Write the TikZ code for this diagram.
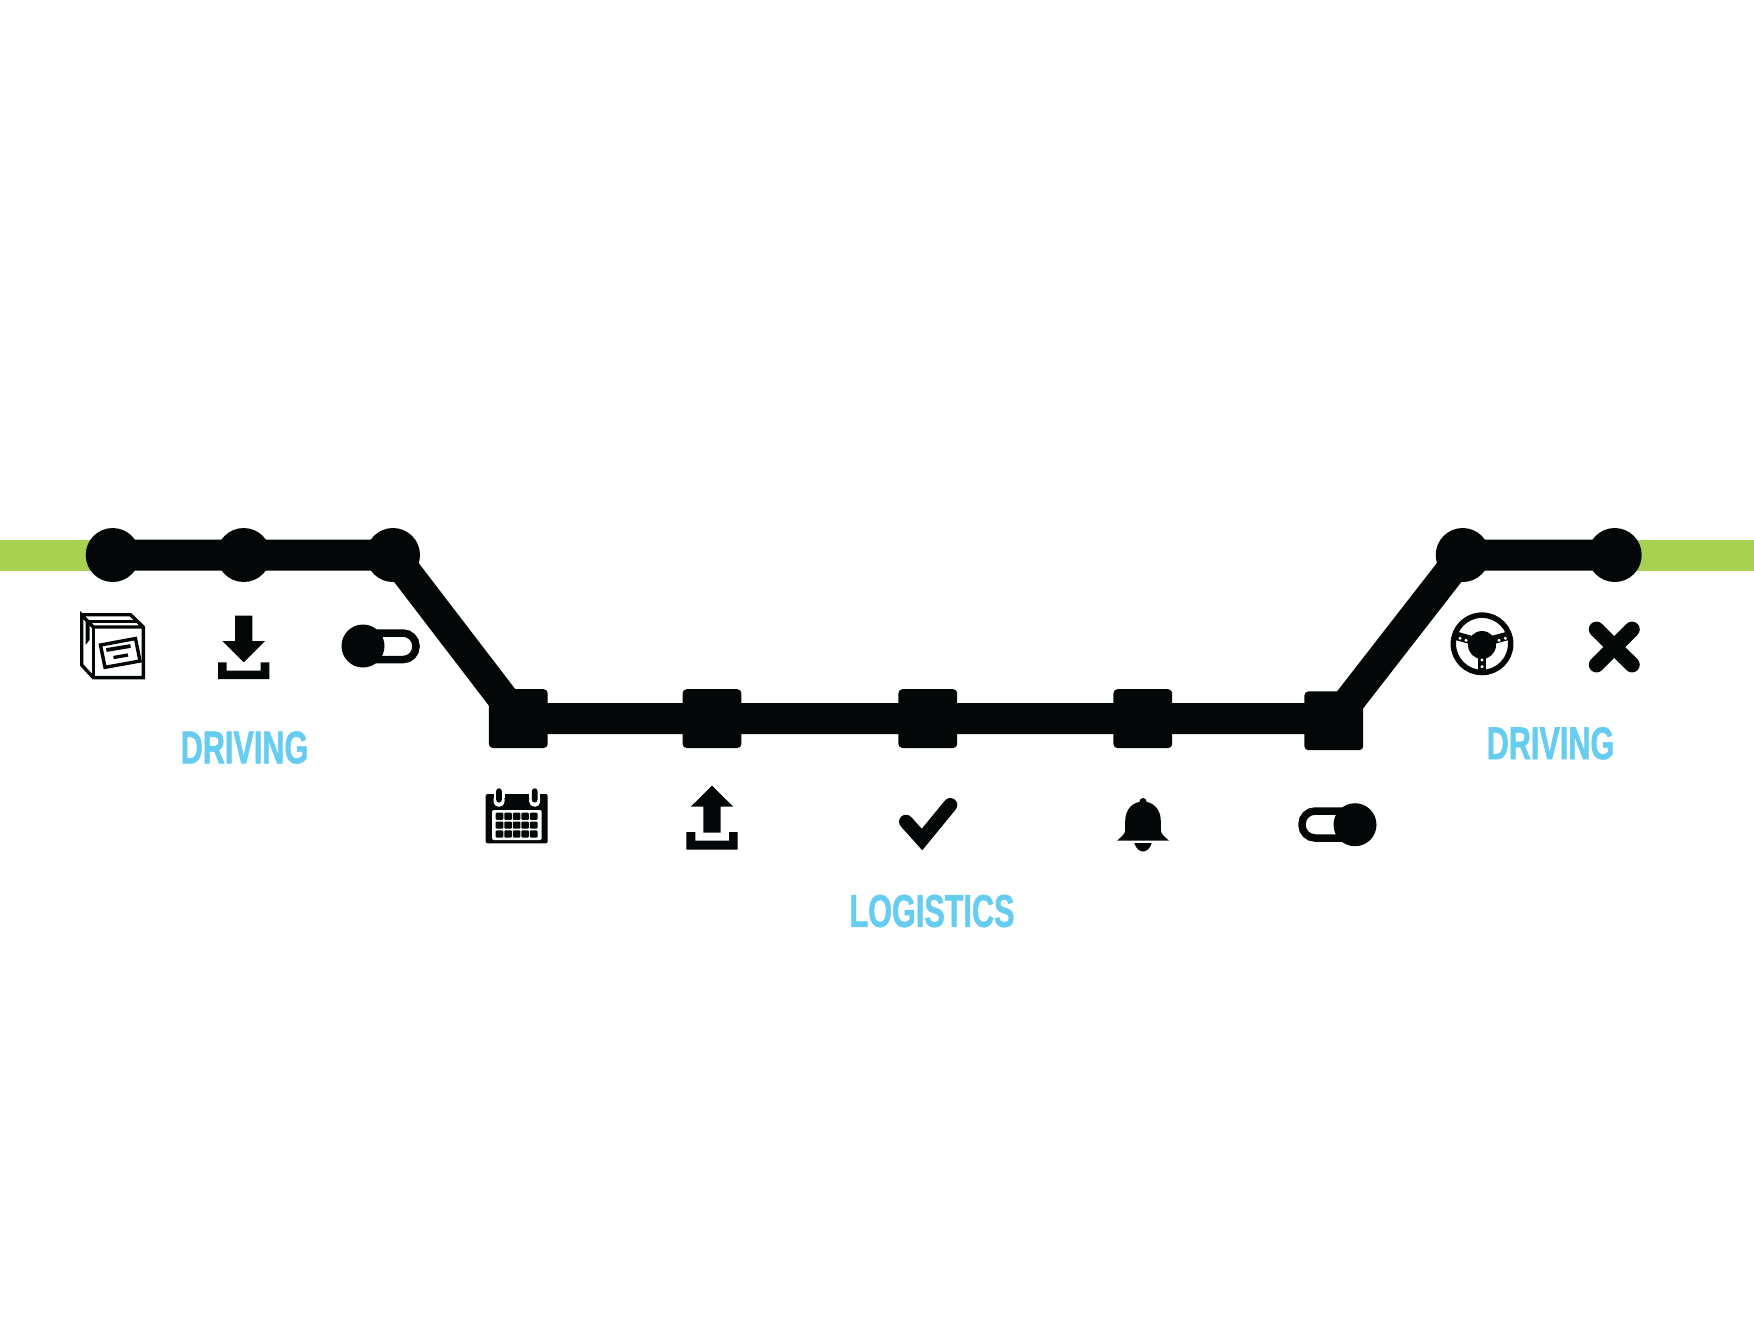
\documentclass[tikz,border=0pt]{standalone}
\usepackage{fontspec}
\newfontfamily\signfont[FakeStretch=0.665,FakeBold=1.1]{Liberation Sans}
\usetikzlibrary{backgrounds,calc}
\definecolor{ink}{HTML}{040708}
\definecolor{leaf}{HTML}{A8D152}
\definecolor{sky}{HTML}{66CCF0}
\tikzset{
  trackline/.style={draw=ink,line width=3.1mm},
  endline/.style={draw=leaf,line width=3.1mm},
  roundstop/.style={circle,fill=ink,inner sep=0pt,minimum size=5.4mm},
  squarestop/.style={rectangle,rounded corners=0.4mm,fill=ink,inner sep=0pt,minimum size=5.88mm},
  signlabel/.style={text=sky,inner sep=0pt,font=\signfont\bfseries\fontsize{13.1}{13.1}\selectfont},
  thinicon/.style={draw=ink,line width=0.34mm,line join=miter},
  pill/.style={draw=ink,line width=0.75mm,rounded corners=1.3mm}
}
\begin{document}
\begin{tikzpicture}[x=0.1mm,y=-0.1mm]
  \useasboundingbox (0,0) rectangle (1754,1317);
  % stops
  \node[roundstop] (driveA) at (112.7,555) {};
  \node[roundstop] (driveB) at (243.7,555) {};
  \node[roundstop] (driveC) at (393,555) {};
  \node[squarestop] (logA) at (518.3,718.6) {};
  \node[squarestop] (logB) at (712,718.6) {};
  \node[squarestop] (logC) at (927.8,718.6) {};
  \node[squarestop] (logD) at (1142.8,718.6) {};
  \node[squarestop] (logE) at (1333.8,720.8) {};
  \node[roundstop] (driveD) at (1462.7,555) {};
  \node[roundstop] (driveE) at (1614.7,555) {};
  \coordinate (leftend) at (0,555.3);
  \coordinate (rightend) at (1754,555.3);
  % route
  \begin{scope}[on background layer]
    \draw[endline] (leftend) -- (driveA.center |- leftend);
    \draw[endline] (driveE.center |- rightend) -- (rightend);
  \end{scope}
  \draw[trackline] (driveA.center) -- (driveB.center) -- (driveC.center) -- (logA.center) -- (logB.center) -- (logC.center) -- (logD.center) -- (logD.center -| logE.center);
  \draw[trackline] (logE.center) -- (driveD.center) -- (driveE.center);
  % box
  \draw[thinicon] (80,614.7) -- (130.5,614.7) -- (143.3,627) -- (143.3,677.6) -- (93.3,677.6) -- (81.7,665) -- (81.7,615) -- (93.3,627) -- (143.3,627);
  \draw[thinicon] (93.3,627) -- (93.3,677.6);
  \draw[thinicon] (86,621.5) -- (137,621.5);
  \fill[ink] (85.5,619) -- (89.5,623) -- (89.5,640) -- (85.5,645) -- cycle;
  \draw[thinicon] (100.5,645) -- (135.5,638.5) -- (140,661) -- (105,667.3) -- cycle;
  \draw[ink,line width=0.38mm] (106.3,650) -- (130.5,646);
  \draw[ink,line width=0.33mm] (113.5,657.5) -- (128,655);
  % download
  \fill[ink] (235,615.7) -- (252.3,615.7) -- (252.3,641) -- (265,641) -- (243.7,662.3) -- (222.3,641) -- (235,641) -- cycle;
  \fill[ink] (218,662.3) -- (226.7,662.3) -- (226.7,670.7) -- (260.7,670.7) -- (260.7,662.3) -- (269.3,662.3) -- (269.3,679) -- (218,679) -- cycle;
  % left switch
  \draw[pill] (363,633) rectangle (416,659.6);
  \fill[ink] (363,646) circle (2.15mm);
  % calendar
  \fill[ink,rounded corners=0.2mm] (485.7,794) rectangle (547.7,843.3);
  \fill[white,rounded corners=0.2mm] (492,810) rectangle (541.7,840);
  \foreach \col in {0,...,4}
    \foreach \row in {0,1,2}
      \fill[ink,rounded corners=0.1mm] ({495.7+8.55*\col},{812.7+8.8*\row}) rectangle +(7.6,7.2);
  \foreach \ringx in {499,534.7} {
    \fill[white,rounded corners=0.5mm] (\ringx-5.5,794) rectangle (\ringx+5.5,806.7);
    \fill[white] (\ringx-5.5,790) rectangle (\ringx+5.5,798);
    \fill[ink,rounded corners=0.27mm] (\ringx-2.8,788.3) rectangle (\ringx+2.8,802.5);
  }
  % upload
  \fill[ink] (712,785.7) -- (733.3,806.7) -- (720.7,806.7) -- (720.7,832.7) -- (703.3,832.7) -- (703.3,806.7) -- (690.7,806.7) -- cycle;
  \fill[ink] (686.3,832) -- (695.3,832) -- (695.3,840.7) -- (729,840.7) -- (729,832) -- (737.7,832) -- (737.7,849.7) -- (686.3,849.7) -- cycle;
  % check
  \draw[ink,line width=1.4mm,line cap=round,line join=miter] (906,821.7) -- (922,839.5) -- (950.3,805);
  % bell
  \fill[ink] (1117,840.7) .. controls (1122,836) and (1125.2,834) .. (1125.2,830) -- (1125.2,821) .. controls (1125.2,809) and (1133,801.5) .. (1143,801.5) .. controls (1153,801.5) and (1160.8,809) .. (1160.8,821) -- (1160.8,830) .. controls (1160.8,834) and (1164,836) .. (1169,840.7) -- cycle;
  \fill[ink] (1143,801.5) circle (0.35mm);
  \fill[ink] (1134.3,843) .. controls (1136,849) and (1140,851.5) .. (1143,851.5) .. controls (1146,851.5) and (1150,849) .. (1151.7,843) -- cycle;
  % right switch
  \draw[pill] (1302,811) rectangle (1355,838);
  \fill[ink] (1355,824.7) circle (2.15mm);
  % wheel
  \draw[ink,line width=0.55mm] (1482,643.8) circle (2.87mm);
  \fill[ink] (1482,645) circle (1.4mm);
  \draw[ink,line width=0.85mm] (1455,635.5) -- (1482,643);
  \draw[ink,line width=0.85mm] (1509,635.5) -- (1482,643);
  \draw[ink,line width=0.85mm] (1482,645) -- (1482,673);
  \foreach \holex/\holey in {1460/638.3,1466/640.3,1499/640.3,1505.3/638.3,1482/660,1482/666.7}
    \fill[white] (\holex,\holey) circle (0.17mm);
  % cross
  \draw[ink,line width=1.55mm,line cap=round] (1596.5,629.3) -- (1632,664.7);
  \draw[ink,line width=1.55mm,line cap=round] (1632,629.3) -- (1596.5,664.7);
  % labels
  \node[signlabel] (driveleft) at (244.5,747.5) {DRIVING};
  \node[signlabel] (logistics) at (932,911) {LOGISTICS};
  \node[signlabel] (driveright) at (1550.5,743.3) {DRIVING};
\end{tikzpicture}
\end{document}
